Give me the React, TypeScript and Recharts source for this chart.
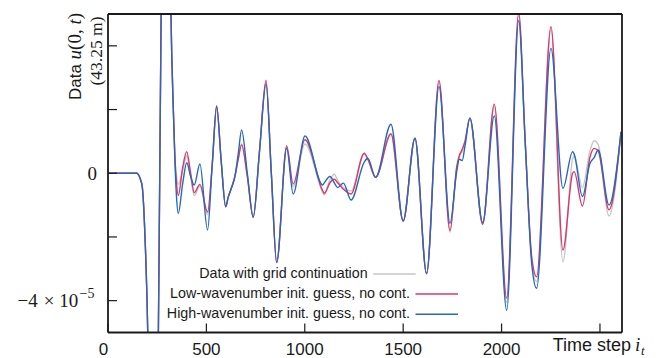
import React from 'react';
import { LineChart, Line, XAxis, YAxis, Legend, Customized } from 'recharts';

// time steps (shared sampling of the three traces)
const steps = [
  0, 146, 163, 174, 188, 202, 215, 228, 242, 256, 263, 270, 282, 295, 308, 320, 332, 340, 348, 357,
  380, 400, 420, 438, 467, 506, 530, 552, 575, 598, 611, 628, 645, 662, 679, 708, 738, 770, 803, 830,
  857, 908, 941, 1001, 1091, 1099, 1128, 1150, 1167, 1196, 1235, 1302, 1320, 1360, 1438, 1500, 1560, 1619, 1682, 1738,
  1772, 1785, 1800, 1814, 1839, 1904, 1963, 2026, 2087, 2120, 2153, 2178, 2251, 2312, 2361, 2369, 2411, 2449, 2471, 2491,
  2546, 2607,
];

// values in units of 1e-5
const gridData = [
  0, 0, -0.16, -0.42, -2.0, -5.0, -11, -15, -11, -5, 0, 5, 13, 16, 12, 5, 2.0, 0.5, -0.1, -0.35,
  0.1, 0.55, -0.1, -0.7, -0.4, -1.3, 0.3, 2.1, 0.4, -1.05, -0.75, -0.45, -0.1, 0.45, 0.92, -0.1, -1.38, 0.7, 2.88, 0,
  -2.8, 0.82, -0.42, 0.92, -0.6, -0.68, -0.2, -0.03, -0.22, -0.45, -0.56, 0.6, 0.45, -0.13, 1.25, -1.5, 1.1, -3.15, 2.85, -1.85,
  0.15, 0.5, 0.7, 1.0, 1.73, -1.6, 2.1, -4.05, 4.95, 1.0, -2.7, -3.4, 4.5, -2.78, 0.45, 0.55, -0.45, 0.7, 1.02, 0.9,
  -1.34, 1.3,
];

const lowGuess = [
  0, 0, -0.16, -0.42, -2.0, -5.0, -11, -15, -11, -5, 0, 5, 13, 16, 12, 5, 2.0, 0.5, -0.3, -0.7,
  0.2, 0.68, 0.0, -0.61, -0.35, -1.22, 0.3, 2.12, 0.4, -1.05, -0.75, -0.45, -0.1, 0.45, 0.89, -0.1, -1.38, 0.7, 2.92, 0,
  -2.8, 0.86, -0.34, 1.05, -0.55, -0.63, -0.3, -0.19, -0.3, -0.5, -0.65, 0.63, 0.45, -0.13, 1.23, -1.5, 1.1, -3.15, 2.91, -1.8,
  0.2, 0.55, 0.75, 1.0, 1.73, -1.6, 2.17, -3.92, 5.05, 1.0, -2.62, -3.25, 4.6, -2.41, 0.0, 0.05, -1.03, 0.5, 0.78, 0.7,
  -1.15, 1.3,
];

const highGuess = [
  0, 0, -0.16, -0.42, -2.0, -5.0, -11, -15, -11, -5, 0, 5, 13, 16, 12, 5, 2.0, 0.4, -0.73, -1.26,
  -0.3, 0.33, -0.1, -0.37, 0.29, -1.78, 0.3, 2.09, 0.4, -1.05, -0.75, -0.45, -0.1, 0.62, 1.36, 0.0, -1.38, 0.7, 2.8, 0,
  -2.8, 0.78, -0.65, 1.17, -0.37, -0.3, -0.1, -0.3, -0.45, -0.31, -0.84, 0.35, 0.47, -0.13, 1.54, -1.5, 1.1, -3.15, 2.72, -1.57,
  0.05, 0.44, 0.4, 0.85, 1.73, -1.55, 1.8, -4.3, 4.79, 1.0, -2.83, -3.61, 3.92, -0.47, 0.68, 0.6, -0.73, 0.31, 0.5, 0.73,
  -1.0, 1.3,
];

const xTicks = [0, 500, 1000, 1500, 2000, 2500];
const xTickLabels = ['0', '500', '1000', '1500', '2000', ''];
const yTicks = [-4, -2, 0, 2, 4];

const seriesKeys = ['grid', 'low', 'high'];
const seriesNames = [
  'Data with grid continuation',
  'Low-wavenumber init. guess, no cont.',
  'High-wavenumber init. guess, no cont.',
];
const seriesColors = ['#c6c6c6', '#d8396b', '#2868bb'];

const rows = steps.map((s, i) => ({
  step: s,
  grid: gridData[i],
  low: lowGuess[i],
  high: highGuess[i],
}));

const SANS = '"Liberation Sans", Arial, Helvetica, sans-serif';
const SERIF = '"Liberation Serif", "Times New Roman", serif';
const INK = '#1a1a1a';

const XTick = (props: any) => {
  const { x, payload } = props;
  const idx = xTicks.indexOf(payload.value);
  const label = idx >= 0 ? xTickLabels[idx] : '';
  if (!label) return <g />;
  const dx = payload.value === 0 ? -4.5 : 0;
  return (
    <text x={x + dx} y={354.5} textAnchor="middle" fontFamily={SANS} fontSize={17} fill={INK}>
      {label}
    </text>
  );
};

const YTick = (props: any) => {
  const { y, payload } = props;
  if (payload.value === 0) {
    return (
      <text x={97} y={y + 6.3} textAnchor="end" fontFamily={SERIF} fontSize={19} fill={INK}>
        0
      </text>
    );
  }
  if (payload.value === -4) {
    return (
      <g fontFamily={SERIF} fill={INK}>
        <text x={37.8} y={y + 6} textAnchor="end" fontSize={19}>−4</text>
        <text x={49.2} y={y + 6} textAnchor="middle" fontSize={19}>×</text>
        <text x={78.3} y={y + 6} textAnchor="end" fontSize={19}>10</text>
        <text x={79.5} y={y - 3} textAnchor="start" fontSize={14}>−5</text>
      </g>
    );
  }
  return <g />;
};

const AxisTitles = () => (
  <g fill={INK}>
    <text transform="translate(81,56.5) rotate(-90)" textAnchor="middle">
      <tspan fontFamily={SANS} fontSize={17}>Data </tspan>
      <tspan fontFamily={SERIF} fontSize={19} fontStyle="italic">u</tspan>
      <tspan fontFamily={SERIF} fontSize={19}>(0, </tspan>
      <tspan fontFamily={SERIF} fontSize={19} fontStyle="italic">t</tspan>
      <tspan fontFamily={SERIF} fontSize={19}>)</tspan>
    </text>
    <text transform="translate(101.7,51) rotate(-90)" textAnchor="middle" fontFamily={SERIF} fontSize={17.5}>
      (43.25 m)
    </text>
    <text x={552.7} y={350.7} fontFamily={SANS} fontSize={18}>Time step</text>
    <text x={635} y={350.7} fontFamily={SERIF} fontSize={19} fontStyle="italic">i</text>
    <text x={641} y={355} fontFamily={SERIF} fontSize={13} fontStyle="italic">t</text>
  </g>
);

const legendTextEnd = [367.7, 410, 410];
const legendBaseline = [277.7, 298.3, 318.3];
const legendLineY = [274, 294, 314.3];

const LegendContent = () => (
  <svg width={662} height={358} style={{ position: 'absolute', left: 0, top: 0, overflow: 'visible' }}>
    {seriesNames.map((name, i) => (
      <g key={name}>
        <text
          x={legendTextEnd[i]}
          y={legendBaseline[i]}
          textAnchor="end"
          fontFamily={SANS}
          fontSize={14.3}
          fill={INK}
        >
          {name}
        </text>
        <line
          x1={legendTextEnd[i] + 5.5}
          x2={legendTextEnd[i] + 48}
          y1={legendLineY[i]}
          y2={legendLineY[i]}
          stroke={seriesColors[i]}
          strokeWidth={1.5}
        />
      </g>
    ))}
  </svg>
);

export default function App() {
  const axisLine = { stroke: INK, strokeWidth: 1.8 };
  const tickLine = { stroke: INK, strokeWidth: 1.2 };
  return (
    <div style={{ position: 'absolute', left: 0, top: 0, width: 662, height: 358, background: '#fff' }}>
      <LineChart width={662} height={358} data={rows} margin={{ top: 13, right: 39, bottom: 0, left: 0 }}>
        <XAxis
          xAxisId="b"
          dataKey="step"
          type="number"
          domain={[0, 2612]}
          allowDataOverflow
          ticks={xTicks}
          interval={0}
          tickSize={-9}
          tickLine={tickLine}
          axisLine={axisLine}
          tick={<XTick />}
          height={25.5}
        />
        <XAxis
          xAxisId="t"
          orientation="top"
          dataKey="step"
          type="number"
          domain={[0, 2612]}
          allowDataOverflow
          ticks={xTicks}
          interval={0}
          tickSize={-9}
          tickLine={tickLine}
          axisLine={axisLine}
          tick={false}
          height={1}
        />
        <YAxis
          yAxisId="l"
          type="number"
          domain={[-5, 5]}
          allowDataOverflow
          ticks={yTicks}
          interval={0}
          tickSize={-9}
          tickLine={tickLine}
          axisLine={axisLine}
          tick={<YTick />}
          width={108}
        />
        <YAxis
          yAxisId="r"
          orientation="right"
          type="number"
          domain={[-5, 5]}
          allowDataOverflow
          ticks={yTicks}
          interval={0}
          tickSize={-9}
          tickLine={tickLine}
          axisLine={axisLine}
          tick={false}
          width={1}
        />
        {seriesKeys.map((k, i) => (
          <Line
            key={k}
            xAxisId="b"
            yAxisId="l"
            dataKey={k}
            name={seriesNames[i]}
            stroke={seriesColors[i]}
            strokeWidth={1.4}
            type="monotone"
            dot={false}
            activeDot={false}
            isAnimationActive={false}
          />
        ))}
        <Legend
          layout="horizontal"
          align="center"
          verticalAlign="middle"
          content={<LegendContent />}
          wrapperStyle={{ left: 0, top: 0, width: 662, height: 358, pointerEvents: 'none' }}
        />
        <Customized component={AxisTitles} />
      </LineChart>
    </div>
  );
}
